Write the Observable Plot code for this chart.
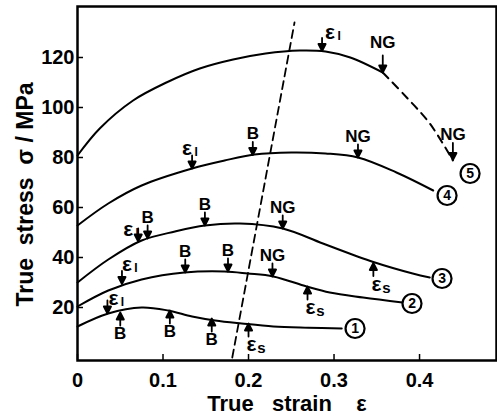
<!DOCTYPE html>
<html>
<head>
<meta charset="utf-8">
<script src="https://cdn.jsdelivr.net/npm/d3@7"></script>
<script src="https://cdn.jsdelivr.net/npm/@observablehq/plot@0.6"></script>
<style>
  html, body { margin: 0; padding: 0; background: #fff; }
  svg { display: block; }
</style>
</head>
<body>
<div id="chart"></div>
<script>
// ---------- data ----------
const xTicks = [0, 0.1, 0.2, 0.3, 0.4];
const yTicks = [20, 40, 60, 80, 100, 120];

const curve1Strain = [0, 0.036, 0.075, 0.106, 0.134, 0.161, 0.192, 0.229, 0.27, 0.309];
const curve1Stress = [12.4, 17.6, 20.0, 18.8, 16.4, 14.8, 13.6, 12.4, 11.9, 11.6];

const curve2Strain = [0, 0.036, 0.075, 0.125, 0.172, 0.199, 0.229, 0.268, 0.295, 0.334, 0.38];
const curve2Stress = [20.4, 26.8, 31.2, 34.0, 34.4, 33.6, 32.4, 28.4, 26.0, 24.0, 22.0];

const curve3Strain = [0, 0.036, 0.075, 0.114, 0.149, 0.19, 0.24, 0.287, 0.346, 0.392, 0.412];
const curve3Stress = [30, 39.2, 46.8, 50.4, 52.8, 53.6, 51.6, 45.6, 38.2, 33.6, 32];

const curve4Strain = [0, 0.036, 0.075, 0.134, 0.172, 0.207, 0.25, 0.29, 0.328, 0.373, 0.416];
const curve4Stress = [52.8, 61.6, 68.8, 75.6, 78.8, 81.2, 82, 81.6, 80, 74, 66.8];

const curve5Strain = [0, 0.026, 0.065, 0.104, 0.143, 0.182, 0.22, 0.26, 0.29, 0.319, 0.357];
const curve5Stress = [80.8, 91.6, 102.8, 110, 115.6, 119.2, 121.6, 122.8, 122.4, 120, 114];
const curve5DashStrain = [0.357, 0.385, 0.412, 0.439];
const curve5DashStress = [114, 104, 93.6, 78.8];

const guideStrain = [0.181, 0.2538];
const guideStress = [0, 134];

const annotCurve  = [5, 5, 5, 4, 4, 4, 3, 3, 3, 3, 3, 2, 2, 2, 2, 2, 1, 1, 1, 1, 1];
const annotLabel  = ["εI", "NG", "NG", "εI", "B", "NG", "εI", "B", "B", "NG", "εS",
                     "εI", "B", "B", "NG", "εS", "εI", "B", "B", "B", "εS"];
const annotStrain = [0.286, 0.357, 0.439, 0.134, 0.205, 0.328, 0.071, 0.082, 0.149, 0.240, 0.346,
                     0.052, 0.126, 0.176, 0.228, 0.269, 0.035, 0.050, 0.108, 0.157, 0.200];
const annotStress = [122.6, 114, 79, 75.6, 81, 80, 46.4, 47.6, 52.8, 51.6, 37.8,
                     29.4, 34, 34.4, 32.4, 28.4, 17.6, 18, 18.8, 15.6, 13.6];
const annotDir    = ["down", "down", "down", "down", "down", "down", "down", "down", "down", "down", "up",
                     "down", "down", "down", "down", "up", "down", "up", "up", "up", "up"];

const circleLabel  = ["1", "2", "3", "4", "5"];
const circleStrain = [0.3246, 0.3912, 0.4263, 0.4322, 0.4591];
const circleStress = [11.6, 21.6, 31.6, 64.8, 73.6];

const xLabel = "True\u00a0\u00a0\u00a0strain\u00a0\u00a0\u00a0\u00a0ε";
const yLabel = "True\u00a0\u00a0stress\u00a0\u00a0σ\u00a0/\u00a0MPa";

// ---------- build tables ----------
const curveSets = [
  [1, curve1Strain, curve1Stress],
  [2, curve2Strain, curve2Stress],
  [3, curve3Strain, curve3Stress],
  [4, curve4Strain, curve4Stress],
  [5, curve5Strain, curve5Stress]
];
const lineData = curveSets.flatMap(([id, sx, sy]) => sx.map((s, i) => ({curve: id, strain: s, stress: sy[i]})));
const dashData = curve5DashStrain.map((s, i) => ({strain: s, stress: curve5DashStress[i]}));
const guideData = guideStrain.map((s, i) => ({strain: s, stress: guideStress[i]}));
const annots = annotLabel.map((label, i) => ({
  curve: annotCurve[i], label, strain: annotStrain[i], stress: annotStress[i], dir: annotDir[i]
}));
const circles = circleLabel.map((t, i) => ({text: t, strain: circleStrain[i], stress: circleStress[i]}));

// ---------- layout / style ----------
const FONT = "'Liberation Sans', Arial, Helvetica, sans-serif";
const arrowShape = {
  draw(context, l) {
    const h = 7, w = 3.6;
    context.moveTo(0, 0);
    context.lineTo(0, -l + h);
    context.moveTo(0, -l);
    context.lineTo(-w, -l + h);
    context.lineTo(w, -l + h);
    context.closePath();
  }
};
// pixel nudges for the epsilon labels (relative to arrow tip)
const epsNudge = {"5": [8, -19], "4": [-5, -20], "3": [-10, -12], "2": [5, -20], "1": [6, -15]};
function arrowLength(a) { return a.curve === 5 && a.label === "NG" ? 17 : 13; }

const annotMarks = annots.flatMap(a => {
  const down = a.dir === "down";
  const marks = [
    Plot.vector([a], {
      x: "strain", y: "stress", length: arrowLength(a), rotate: down ? 180 : 0,
      anchor: "end", shape: arrowShape, stroke: "black", fill: "black", strokeWidth: 1.8
    })
  ];
  if (a.label.startsWith("ε")) {
    const [dx, dy] = down ? epsNudge[a.curve] : [3, 21];
    marks.push(Plot.text([a], {x: "strain", y: "stress", text: () => "ε", dx, dy,
      fontSize: 21, fontWeight: "bold", fontFamily: FONT, fill: "black"}));
    marks.push(Plot.text([a], {x: "strain", y: "stress", text: d => d.label === "εI" ? "I" : "s",
      dx: dx + (a.label === "εI" ? 9 : 10), dy: dy + 4,
      fontSize: a.label === "εI" ? 12 : 15, fontWeight: "bold", fontFamily: FONT, fill: "black"}));
  } else {
    const dy = down ? (a.curve === 5 ? (a.strain > 0.4 ? -25 : -30) : -21) : 21;
    marks.push(Plot.text([a], {x: "strain", y: "stress", text: "label", dy,
      fontSize: 17, fontWeight: "bold", fontFamily: FONT, fill: "black"}));
  }
  return marks;
});

const chart = Plot.plot({
  width: 497,
  height: 417,
  marginLeft: 77,
  marginRight: 1,
  marginTop: 6,
  marginBottom: 57,
  style: {fontFamily: FONT, fontSize: "20px", fontWeight: "bold", color: "black", background: "white"},
  x: {domain: [0, 0.49], axis: null},
  y: {domain: [-1.2, 140.4], axis: null},
  marks: [
    Plot.line(guideData, {x: "strain", y: "stress", stroke: "black", strokeWidth: 1.8, strokeDasharray: "8,5"}),
    Plot.line(lineData, {x: "strain", y: "stress", z: "curve", curve: "catmull-rom", stroke: "black", strokeWidth: 2}),
    Plot.line(dashData, {x: "strain", y: "stress", curve: "catmull-rom", stroke: "black", strokeWidth: 2, strokeDasharray: "8,6"}),
    ...annotMarks,
    Plot.dot(circles, {x: "strain", y: "stress", r: 9.5, stroke: "black", strokeWidth: 2.2, fill: "white"}),
    Plot.text(circles, {x: "strain", y: "stress", text: "text", fontSize: 14, fontWeight: "bold", fontFamily: FONT, fill: "black"}),
    Plot.frame({stroke: "black", strokeWidth: 2.5}),
    Plot.axisX(xTicks, {x: d => d, anchor: "bottom", tickSize: -6, tickPadding: 18, tickFormat: d => String(d),
      fontSize: 20, fontWeight: "bold", strokeWidth: 1.5, label: null}),
    Plot.axisY(yTicks, {y: d => d, anchor: "left", tickSize: -6, tickPadding: 9, tickFormat: d => String(d),
      fontSize: 20, fontWeight: "bold", strokeWidth: 1.5, label: null}),
    Plot.text([xLabel], {text: d => d, frameAnchor: "bottom", dy: 43, lineAnchor: "middle", textAnchor: "middle",
      fontSize: 22, fontWeight: "bold", fontFamily: FONT}),
    Plot.text([yLabel], {text: d => d, frameAnchor: "left", dx: -52, dy: 11, rotate: -90, textAnchor: "middle", lineAnchor: "middle",
      fontSize: 23, fontWeight: "bold", fontFamily: FONT})
  ]
});
document.getElementById("chart").append(chart);
</script>
</body>
</html>
